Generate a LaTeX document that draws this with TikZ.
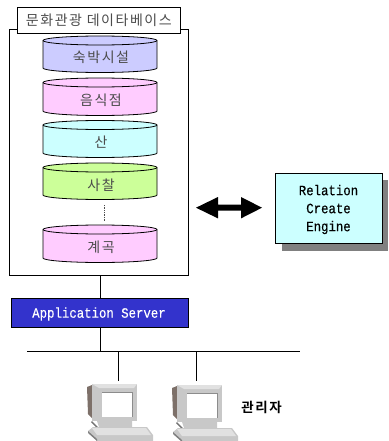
\documentclass[tikz,border=0pt]{standalone}
\usepackage{fontspec}
\newfontfamily\kr[LetterSpace=11]{Noto Sans CJK KR}
\newfontfamily\krb[LetterSpace=12,BoldFont={Noto Sans CJK KR Bold}]{Noto Sans CJK KR}
\newfontfamily\mono[FakeStretch=0.87,FakeBold=0.35]{Liberation Mono}
\definecolor{cA}{RGB}{204,204,255}
\definecolor{cB}{RGB}{255,204,255}
\definecolor{cC}{RGB}{204,255,255}
\definecolor{cD}{RGB}{204,255,153}
\definecolor{srv}{RGB}{51,51,204}
\definecolor{txt}{RGB}{75,75,75}
\definecolor{mfront}{RGB}{200,200,200}
\definecolor{mside}{RGB}{125,112,105}
\definecolor{mtop}{RGB}{225,225,225}
\tikzset{
  ln/.style={draw=black,line width=0.9pt},
  krlabel/.style={font=\kr\fontsize{14}{16}\selectfont,text=txt,inner sep=0pt},
  monolabel/.style={font=\mono\fontsize{14.2}{18}\selectfont,inner sep=0pt,align=center},
}
% #1 fill, #2 top centre y, #3 bottom centre y, #4 name, #5 text
\newcommand{\dbcyl}[5]{%
  \path[draw=black,fill=#1,line width=0.8pt] (43,#2) -- (43,#3) arc[start angle=180,end angle=0,x radius=57,y radius=4.5] -- (157,#2) arc[start angle=0,end angle=-180,x radius=57,y radius=4.5] -- cycle;
  \path[draw=black,line width=0.8pt] (43,#2) arc[start angle=180,end angle=0,x radius=57,y radius=4.5];
  \node[krlabel] (#4) at (101,{(#2+#3)/2+3.5}) {#5};
}
\newcommand{\pcicon}[2]{%
  \begin{scope}[shift={(#1,#2)}]
    \fill[mside] (0,3) -- (5,1) -- (5,34) -- (1,30) -- cycle;
    \fill[mfront] (5,0) -- (50,0) -- (50,37) -- (5,37) -- cycle;
    \fill[mtop] (5,0) -- (50,0) -- (47,4) -- (12,4) -- cycle;
    \fill[white] (15,8) -- (46,8) -- (46,33) -- (15,33) -- cycle;
    \fill[black!45] (15,8) rectangle (46,8.6);
    \fill[black!45] (45.4,8) rectangle (46,33);
    \fill[black!55] (5,37) -- (11,43) -- (10,44) -- (4,38) -- cycle;
    \fill[mfront] (10,37) -- (45,37) -- (45,43) -- (12,43) -- cycle;
    \fill[mfront] (1,47) -- (6,43) -- (60,43) -- (66,51) -- (66,57) -- (10,57) -- cycle;
    \fill[mtop] (5,44) -- (59,44) -- (64,51) -- (10,51) -- cycle;
    \fill[black!50] (1,47) -- (10,55) -- (10,57) -- (1,49) -- cycle;
  \end{scope}
}
\begin{document}
\begin{tikzpicture}[x=1pt,y=-1pt]
\useasboundingbox (0,0) rectangle (388,441);
\node[draw=black,line width=0.9pt,minimum width=179pt,minimum height=246pt,inner sep=0pt,anchor=north west] (outer) at (9,29) {};
\node[draw=black,line width=0.7pt,fill=white,minimum width=163pt,minimum height=26pt,inner sep=0pt,anchor=north west,font=\kr\fontsize{14}{16}\selectfont,text=txt] (title) at (17,7) {문화관광 데이타베이스};
\dbcyl{cA}{40.5}{68}{c1}{숙박시설}
\dbcyl{cB}{82.5}{111}{c2}{음식점}
\dbcyl{cC}{125}{153}{c3}{산}
\dbcyl{cD}{167.5}{195}{c4}{사찰}
\dbcyl{cB}{229.5}{258}{c5}{계곡}
\coordinate (dotA) at (104,205);
\coordinate (dotB) at (104,222);
\draw[black!70,line width=0.7pt,densely dotted] (dotA) -- (dotB);
\node[draw=black,line width=0.9pt,fill=srv,minimum width=177pt,minimum height=29pt,inner sep=0pt,anchor=north west] (srvbox) at (11,298) {};
\node[monolabel,text=white,anchor=center] (srvtext) at (99,314) {Application Server};
\coordinate (busL) at (27,351);
\coordinate (busR) at (300,351);
\coordinate (busA) at (100.5,351);
\coordinate (busB) at (118,351);
\coordinate (busC) at (196,351);
\coordinate (pcA) at (118,381);
\coordinate (pcB) at (196,381);
\draw[ln] (outer.south -| busA) -- (srvbox.north -| busA);
\draw[ln] (srvbox.south -| busA) -- (busA);
\draw[ln] (busL) -- (busR);
\draw[ln] (busB) -- (pcA);
\draw[ln] (busC) -- (pcB);
\pcicon{87}{384}
\pcicon{172}{385}
\node[font=\krb\bfseries\fontsize{13.5}{16}\selectfont,inner sep=0pt] (admin) at (261.5,407) {관리자};
\fill[black!50] (282,180) rectangle (388,251);
\node[draw=black,line width=0.8pt,fill=cC,minimum width=107pt,minimum height=70pt,inner sep=0pt,anchor=north west] (rce) at (275,173) {};
\node[monolabel,anchor=center] (rcetext) at (328.5,209.5) {Relation\\Create\\Engine};
\fill[black] (196,207.7) -- (218,197) -- (218,204.7) -- (241,204.7) -- (241,197) -- (262,207.7) -- (241,218.4) -- (241,210.7) -- (218,210.7) -- (218,218.4) -- cycle;
\end{tikzpicture}
\end{document}
